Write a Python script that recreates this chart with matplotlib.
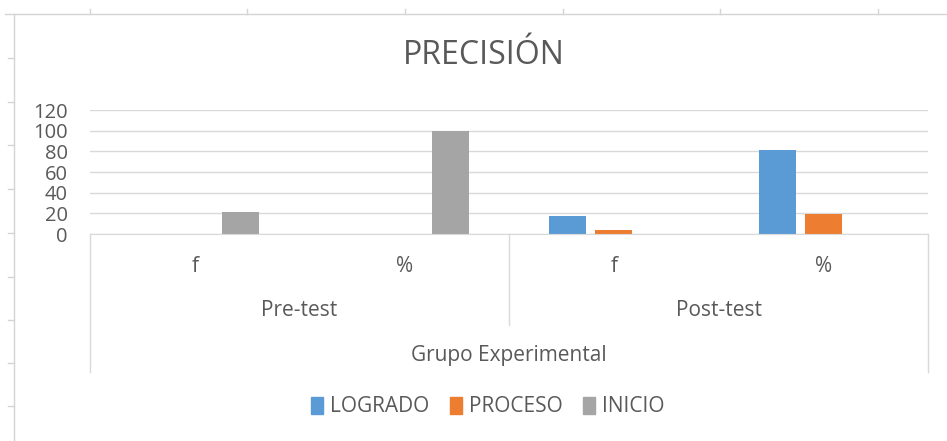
import numpy as np
import matplotlib
matplotlib.use("Agg")
import matplotlib.pyplot as plt
from matplotlib import transforms
from matplotlib.lines import Line2D
from matplotlib.patches import Patch

plt.rcParams['font.family'] = ['Open Sans', 'DejaVu Sans']

# ---------------- data ----------------
sub_labels = ["f", "%", "f", "%"]
group_labels = ["Pre-test", "Post-test"]
outer_label = "Grupo Experimental"
series_names = ["LOGRADO", "PROCESO", "INICIO"]
logrado = [0, 0, 17, 81]
proceso = [0, 0, 4, 19]
inicio = [21, 100, 0, 0]
colors = ["#5b9bd5", "#ed7d31", "#a5a5a5"]

W, H = 947, 441
fig = plt.figure(figsize=(W / 100, H / 100), dpi=100)

def fy(py):
    return 1 - py / H

# spreadsheet cell borders behind the chart
fig.add_artist(Line2D([5 / W, 1], [fy(14), fy(14)], color="#d4d4d4", lw=1))
fig.add_artist(Line2D([14 / W, 14 / W], [fy(14), 0], color="#d4d4d4", lw=1))
for px in [90, 247, 405, 563, 720, 878]:
    fig.add_artist(Line2D([px / W, px / W], [fy(14), fy(9)], color="#d4d4d4", lw=1))
for py in [58, 102, 145, 189, 233, 277, 320, 363, 406]:
    fig.add_artist(Line2D([8 / W, 14 / W], [fy(py), fy(py)], color="#d4d4d4", lw=1))

ax = fig.add_axes([90 / W, fy(234), (928 - 90) / W, (234 - 110) / H])

x = np.arange(len(sub_labels))
bw = 0.177
off = 0.22
for i, (vals, c) in enumerate(zip([logrado, proceso, inicio], colors)):
    ax.bar(x + (i - 1) * off, vals, width=bw, color=c, zorder=3)

ax.set_xlim(-0.5, 3.5)
ax.set_ylim(0, 120)
ax.set_yticks(range(0, 121, 20))
ax.tick_params(axis="y", length=0, labelsize=14.5, labelcolor="#595959", pad=16)
ax.set_xticks([])
ax.grid(axis="y", color="#d9d9d9", lw=1, zorder=0)
for s in ["top", "right", "left"]:
    ax.spines[s].set_visible(False)
ax.spines["bottom"].set_color("#d9d9d9")
ax.spines["bottom"].set_zorder(4)

fig.text(484 / W, fy(55), "PRECISIÓN", ha="center", va="center", fontsize=23, color="#595959")

# multi-level category axis
tr = transforms.blended_transform_factory(ax.transData, fig.transFigure)
for xi, lab in zip(x, sub_labels):
    ax.text(xi, fy(267), lab, transform=tr, ha="center", va="center", fontsize=15, color="#595959")
for gi, lab in enumerate(group_labels):
    ax.text(gi * 2 + 0.5, fy(310), lab, transform=tr, ha="center", va="center", fontsize=15, color="#595959")
ax.text(1.5, fy(356), outer_label, transform=tr, ha="center", va="center", fontsize=15, color="#595959")
for xv, ybot in [(-0.5, 372), (1.5, 325), (3.5, 372)]:
    ax.add_line(Line2D([xv, xv], [fy(234), fy(ybot)], transform=tr, color="#d9d9d9", lw=1, clip_on=False))

handles = [Patch(color=c, label=n) for c, n in zip(colors, series_names)]
leg = fig.legend(handles=handles, loc="center", bbox_to_anchor=(488 / W, fy(407)), ncol=3,
                 frameon=False, fontsize=15, handlelength=0.55, handleheight=0.9,
                 handletextpad=0.35, columnspacing=1.0)
for t in leg.get_texts():
    t.set_color("#595959")

fig.savefig("out.png", dpi=100)
